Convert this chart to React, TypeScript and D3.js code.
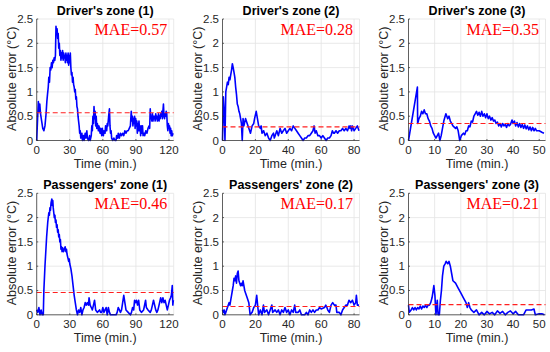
import React from "react";
import * as d3 from "d3";

type P = [number, number];

const titles = [
  "Driver's zone (1)", "Driver's zone (2)", "Driver's zone (3)",
  "Passengers' zone (1)", "Passengers' zone (2)", "Passengers' zone (3)",
];
const maeValues = [0.57, 0.28, 0.35, 0.46, 0.17, 0.21];
const xMaxes = [124.3, 83.3, 52.4, 124.3, 83.3, 52.4];
const xTicksList = [
  [0, 30, 60, 90, 120], [0, 20, 40, 60, 80], [0, 10, 20, 30, 40, 50],
  [0, 30, 60, 90, 120], [0, 20, 40, 60, 80], [0, 10, 20, 30, 40, 50],
];
const yTicks = [0, 0.5, 1, 1.5, 2, 2.5];
const yTickLabels = ["0", "0.5", "1", "1.5", "2", "2.5"];

const driver1: P[] = [
  [0,0],[0.8,0.45],[1.5,0.8],[2.2,0.6],[2.8,0.75],[3.5,0.55],[4.5,0.4],[5.5,0.25],[6.5,0.2],[7.5,0.3],[8.5,0.55],[9.2,0.8],[9.8,0.95],[10.5,1.1],[11,1.3],[11.6,1.2],[12.2,1.5],[12.8,1.45],[13.4,1.6],[14,1.5],[14.6,1.65],[15.2,1.6],[15.8,1.7],[16.4,1.65],[17,1.75],[17.5,2.35],[18,2.2],[18.5,2.3],[19,2.1],[19.5,2.2],[20,1.9],[20.5,2.0],[21,1.75],[21.5,1.85],[22,1.65],[22.5,1.8],[23,1.7],[23.5,1.85],[24,1.65],[24.5,1.8],[25,1.7],[25.5,1.75],[26,1.6],[26.5,1.8],[27,1.65],[27.5,1.75],[28,1.6],[28.5,1.8],[29,1.55],[29.5,1.75],[30,1.6],[30.5,1.8],[31,1.5],[31.5,1.35],[32,1.4],[32.5,1.2],[33,1.3],[33.5,1.15],[34,1.1],[34.5,1.0],[35,1.05],[35.5,0.85],[36,0.9],[36.5,0.7],[37,0.65],[37.5,0.5],[38,0.4],[38.5,0.3],[39,0.15],[39.5,0.2],[40,0.05],[41,0.15],[41.5,0.0],[42.5,0.1],[43,0.0],[44,0.15],[44.5,0.05],[45.5,0.2],[46,0.05],[47,0.0],[48,0.1],[48.5,0.0],[49.5,0.1],[50,0.3],[50.5,0.2],[51,0.5],[51.5,0.35],[52,0.7],[52.5,0.45],[53,0.6],[53.5,0.3],[54,0.5],[54.5,0.25],[55,0.35],[56,0.2],[56.5,0.3],[57.5,0.15],[58,0.25],[59,0.1],[59.5,0.25],[60.5,0.1],[61,0.2],[62,0.15],[62.5,0.3],[63.5,0.2],[64,0.35],[64.5,0.3],[65.5,0.55],[66,0.65],[66.5,0.3],[67,0.15],[67.5,0.2],[68,0.05],[69,0.0],[70,0.05],[71,0.0],[72,0.0],[72.5,0.1],[73.5,0.05],[74,0.15],[75,0.05],[76,0.15],[77,0.1],[78,0.15],[79,0.1],[80,0.2],[81,0.15],[82,0.2],[83,0.2],[84,0.25],[85,0.3],[85.8,0.6],[86.3,0.4],[86.8,0.5],[87.3,0.3],[87.8,0.45],[88.3,0.35],[88.8,0.5],[89.3,0.25],[89.8,0.45],[90.3,0.3],[90.8,0.4],[91.3,0.15],[91.8,0.35],[92.3,0.2],[92.8,0.4],[93.3,0.2],[93.8,0.3],[94.3,0.1],[94.8,0.3],[95.3,0.15],[96,0.3],[96.5,0.1],[97.5,0.15],[98,0.1],[99,0.2],[100,0.15],[101,0.25],[102,0.3],[102.5,0.25],[103,0.65],[103.5,0.45],[104,0.5],[104.5,0.4],[105,0.55],[105.5,0.4],[106,0.5],[106.5,0.45],[107,0.5],[107.5,0.4],[108,0.55],[108.5,0.45],[109,0.5],[109.5,0.4],[110,0.45],[110.5,0.55],[111,0.4],[111.5,0.5],[112,0.45],[112.5,0.55],[113,0.5],[113.5,0.6],[114,0.45],[115,0.75],[115.5,0.5],[116,0.45],[116.5,0.55],[117,0.5],[117.5,0.6],[118,0.55],[118.5,0.3],[119,0.2],[119.5,0.35],[120,0.25],[120.5,0.3],[121,0.15],[121.5,0.25],[122,0.1],[122.5,0.2],[123,0.1],[123.7,0.15],
];

const driver2: P[] = [
  [0,0],[0.5,0.9],[1,0.6],[1.5,0],[2,1.0],[2.5,1.1],[3,1.2],[3.5,1.15],[4,1.3],[4.5,1.25],[5,1.35],[5.5,1.45],[6,1.58],[6.5,1.5],[7,1.4],[7.5,1.3],[8,1.1],[8.5,0.95],[9,0.75],[9.5,0.7],[10,0.6],[10.5,0.55],[11,0.45],[11.5,0.35],[12,0],[12.5,0.45],[13,0.3],[14,0.45],[14.5,0.4],[15,0.35],[16,0.25],[17,0.15],[18,0.3],[19,0.35],[19.5,0.45],[20.5,0.6],[21.5,0.4],[22,0.3],[23,0.25],[23.5,0.3],[24,0.15],[25,0.2],[26,0.1],[27,0.15],[28,0.05],[29,0.0],[30,0.1],[31,0.15],[31.5,0.05],[32,0.1],[33,0.2],[34,0.1],[35,0.25],[36,0.15],[37,0.2],[38,0.25],[39,0.15],[40,0.2],[41,0.25],[42,0.2],[43,0.3],[44,0.25],[45,0.2],[46,0.15],[47,0.1],[48,0.05],[49,0.0],[50,0.05],[51,0.05],[52,0.1],[53,0.1],[54,0.15],[55,0.2],[55.7,0.3],[56.3,0.15],[57,0.2],[58,0.1],[59,0.1],[60,0.05],[61,0.1],[62,0.05],[63,0.0],[64,0.05],[65,0.05],[66,0.1],[66.8,0.2],[67.5,0.15],[68,0.15],[69,0.2],[70,0.15],[71,0.2],[72,0.2],[73,0.25],[74,0.2],[75,0.25],[76,0.2],[77,0.3],[77.5,0.25],[78,0.3],[78.5,0.2],[79,0.3],[79.5,0.25],[80,0.2],[81,0.25],[82,0.3],[83,0.2],
];

const driver3: P[] = [
  [0,0],[3.4,1.1],[3.5,0.35],[4,0.45],[4.5,0.5],[5,0.6],[5.5,0.55],[6,0.63],[6.5,0.55],[7,0.55],[7.5,0.45],[8,0.4],[8.5,0.3],[9,0.25],[9.5,0.15],[10,0.1],[10.5,0.05],[11,0.1],[11.5,0.15],[12,0],[12.5,0.1],[13,0.25],[13.5,0.4],[14.3,0.55],[15,0.45],[15.5,0.5],[16,0.4],[16.5,0.35],[17,0.3],[18,0.25],[18.5,0.28],[19,0.2],[19.6,0.0],[20.2,0.1],[21,0.15],[21.5,0.12],[22,0.2],[22.5,0.2],[23,0.3],[23.5,0.28],[24,0.4],[24.5,0.38],[25,0.5],[25.5,0.55],[26,0.6],[26.5,0.52],[27,0.58],[27.5,0.5],[28,0.6],[28.5,0.5],[29,0.55],[29.5,0.47],[30,0.55],[30.5,0.45],[31,0.5],[31.5,0.42],[32,0.47],[32.5,0.4],[33,0.42],[33.5,0.35],[34,0.38],[34.5,0.3],[35,0.35],[35.5,0.28],[36,0.35],[36.5,0.3],[37,0.33],[37.5,0.27],[38,0.35],[38.5,0.3],[39,0.33],[39.6,0.42],[40,0.35],[40.5,0.4],[41,0.3],[41.5,0.37],[42,0.28],[42.5,0.35],[43,0.27],[43.5,0.33],[44,0.25],[44.5,0.32],[45,0.24],[45.5,0.3],[46,0.22],[46.5,0.28],[47,0.2],[47.5,0.27],[48,0.2],[48.5,0.25],[49,0.2],[50,0.2],[51,0.17],[51.8,0.15],
];

const pass1: P[] = [
  [0,0.1],[1,0.05],[2,0.15],[3,0.0],[4,0.1],[5,0.0],[6,0.0],[6.5,0.5],[7.5,1.0],[8,1.2],[9,1.6],[10,1.9],[11,2.1],[11.5,2.05],[12,2.2],[12.5,2.15],[13,2.3],[13.7,2.38],[14.2,2.25],[14.6,2.35],[15,2.2],[15.5,2.1],[16,2.0],[16.5,2.05],[17,1.9],[17.5,1.95],[18,1.8],[18.5,1.85],[19,1.7],[19.5,1.75],[20,1.6],[20.5,1.65],[21,1.5],[21.5,1.55],[22,1.35],[22.5,1.4],[23,1.3],[23.5,1.38],[24,1.33],[24.5,1.3],[25,1.35],[25.8,1.4],[26.5,1.3],[27,1.35],[27.5,1.25],[28,1.2],[28.5,1.15],[29,1.1],[29.5,1.15],[30,1.05],[30.5,1.0],[31,0.95],[32,0.8],[33,0.6],[34,0.4],[35,0.25],[36,0.1],[37,0.0],[38,0.1],[39,0.05],[40,0.15],[41,0.0],[42,0.1],[43,0.15],[44,0.25],[45,0.2],[46,0.25],[47,0.2],[47.5,0.35],[48.5,0.2],[49.5,0.15],[50.5,0.1],[51.5,0.2],[52.5,0.3],[53.5,0.1],[55,0.05],[57,0.1],[58,0.05],[59,0.05],[60,0.15],[61,0.05],[62,0.1],[63,0.15],[64,0.0],[65,0.15],[66,0.05],[67,0.0],[70,0.0],[72,0.0],[73,0.05],[74,0.15],[75,0.1],[76,0.05],[77,0.1],[78,0.25],[79,0.4],[80,0.25],[81,0.1],[83,0.05],[85,0.0],[86,0.05],[87,0.15],[88,0.1],[88.8,0.3],[89.5,0.25],[90.5,0.3],[91.5,0.2],[92.5,0.3],[93.5,0.1],[95,0.05],[97,0.1],[98.8,0.3],[99.5,0.15],[101,0.1],[103,0.05],[104,0.1],[105,0.2],[106,0.3],[107,0.2],[108,0.1],[109,0.05],[110,0.1],[111,0.2],[112,0.3],[112.5,0.35],[113.5,0.25],[114.5,0.35],[115.5,0.25],[116.5,0.3],[117.5,0.2],[118.5,0.1],[119.5,0.2],[120.5,0.3],[121.5,0.35],[122.2,0.4],[123,0.6],[123.5,0.2],[124,0.3],
];

const pass2: P[] = [
  [0,0.1],[0.5,0.05],[1,0.1],[1.5,0.0],[2,0.05],[3,0.15],[4,0.25],[4.5,0.2],[5,0.3],[5.5,0.4],[6,0.5],[6.5,0.6],[7,0.75],[7.5,0.7],[8,0.8],[8.5,0.65],[9,0.85],[9.5,0.9],[10,0.7],[10.5,0.65],[11,0.6],[11.5,0.65],[12,0.6],[12.5,0.7],[13,0.6],[13.5,0.5],[14,0.45],[15,0.35],[16,0.25],[16.8,0.0],[18,0.05],[19,0.15],[20,0.2],[20.8,0.4],[21.5,0.15],[22,0.0],[23,0.1],[24,0.0],[24.9,0.2],[25.5,0.05],[27,0.1],[28,0.0],[29,0.1],[30,0.2],[30.5,0.05],[32,0.1],[33,0.05],[34,0.1],[35,0.0],[36,0.1],[37,0.05],[38,0.15],[39,0.05],[40,0.1],[41,0.0],[42,0.1],[43,0.05],[43.9,0.2],[44.5,0.05],[46,0.05],[47,0.1],[48,0.0],[50,0.0],[51,0.05],[52,0.0],[53,0.1],[54,0.05],[55,0.1],[56,0.05],[57,0.1],[58,0.1],[59,0.15],[60,0.12],[62,0.15],[62.8,0.2],[63.5,0.15],[64,0.1],[65,0.05],[66,0.2],[67,0.25],[68,0.2],[69,0.2],[69.5,0.05],[71,0.05],[72,0.0],[73,0.1],[74,0.15],[75,0.2],[76,0.2],[76.9,0.3],[78,0.25],[79,0.3],[80,0.2],[81,0.25],[81.4,0.4],[82,0.2],[83,0.2],
];

const pass3: P[] = [
  [0,0.2],[0.3,0.05],[1,0.1],[1.5,0.15],[2,0.1],[2.5,0.15],[3,0.1],[3.5,0.15],[4,0.12],[4.5,0.18],[5,0.12],[5.5,0.18],[6,0.15],[6.5,0.2],[7,0.15],[7.5,0.2],[8,0.2],[8.5,0.25],[9,0.35],[9.3,0.45],[9.7,0.6],[10.1,0.4],[10.5,0.0],[11,0.3],[11.3,0.0],[11.8,0.0],[12.2,0.3],[12.6,0.5],[13,0.8],[13.5,1.0],[14,1.05],[14.4,1.1],[15,1.05],[15.5,1.1],[16,1.0],[16.5,0.85],[17,0.7],[18,0.65],[19,0.55],[20,0.45],[21,0.35],[22,0.25],[22.5,0.15],[23,0.25],[23.5,0.15],[24,0.1],[25,0.05],[26,0.1],[27,0.0],[28,0.05],[29,0.0],[30,0.07],[31,0.02],[32,0.05],[33,0.0],[34,0.08],[35,0.03],[36,0.07],[37,0.0],[38,0.05],[39,0.08],[40,0.02],[41,0.07],[42,0.0],[44,0.0],[45,0.1],[47,0.1],[48,0.12],[48.5,0.0],[50,0.02],[51,0.02],[52,0.0],
];

const seriesList = [driver1, driver2, driver3, pass1, pass2, pass3];

const colLefts = [36.7, 222.5, 408.5];
const rowTops = [19, 193.3];
const W = 137;
const H = 121.5;
const font = "'Liberation Sans', Arial, sans-serif";
const axisColor = "#262626";
const gridColor = "#e3e3e3";

function Panel({ i }: { i: number }) {
  const left = colLefts[i % 3];
  const top = rowTops[Math.floor(i / 3)];
  const x = d3.scaleLinear().domain([0, xMaxes[i]]).range([0, W]);
  const y = d3.scaleLinear().domain([0, 2.5]).range([H, 0]);
  const line = d3.line<P>().x((d) => x(d[0])).y((d) => y(d[1]));
  const xt = xTicksList[i];
  return (
    <g transform={`translate(${left},${top})`}>
      {xt.map((t) => (
        <line key={"gx" + t} x1={x(t)} x2={x(t)} y1={0} y2={H} stroke={gridColor} strokeWidth={0.8} />
      ))}
      {yTicks.map((t) => (
        <line key={"gy" + t} x1={0} x2={W} y1={y(t)} y2={y(t)} stroke={gridColor} strokeWidth={0.8} />
      ))}
      <line x1={W} x2={W} y1={0} y2={H} stroke={gridColor} strokeWidth={0.8} />
      <path d={line(seriesList[i]) || ""} fill="none" stroke="#0000ff" strokeWidth={1.6} strokeLinejoin="round" />
      <line x1={0} x2={W} y1={y(maeValues[i])} y2={y(maeValues[i])} stroke="#ff2020" strokeWidth={1.1} strokeDasharray="5,3" />
      <line x1={0} x2={0} y1={0} y2={H} stroke={axisColor} strokeWidth={0.7} />
      <line x1={0} x2={W} y1={H} y2={H} stroke={axisColor} strokeWidth={0.7} />
      {xt.map((t) => (
        <g key={"xt" + t}>
          <line x1={x(t)} x2={x(t)} y1={H} y2={H - 1.5} stroke={axisColor} strokeWidth={0.7} />
          <text x={x(t)} y={H + 13} textAnchor="middle" fontFamily={font} fontSize={11.5} fill={axisColor}>{t}</text>
        </g>
      ))}
      {yTicks.map((t, k) => (
        <g key={"yt" + t}>
          <line x1={0} x2={1.5} y1={y(t)} y2={y(t)} stroke={axisColor} strokeWidth={0.7} />
          <text x={-3.5} y={y(t) + 4} textAnchor="end" fontFamily={font} fontSize={11.5} fill={axisColor}>{yTickLabels[k]}</text>
        </g>
      ))}
      <text x={W / 2} y={-4} textAnchor="middle" fontFamily={font} fontSize={12.5} fontWeight="bold" fill="#000">{titles[i]}</text>
      <text x={W - 6.5} y={15.5} textAnchor="end" fontFamily="'Liberation Serif', 'Times New Roman', serif" fontSize={16} fill="#ff0000">{`MAE=${maeValues[i].toFixed(2)}`}</text>
      <text x={W / 2} y={H + 27.5} textAnchor="middle" fontFamily={font} fontSize={12.5} fill={axisColor}>Time (min.)</text>
      <text transform={`translate(-21,${H / 2 - 1}) rotate(-90)`} textAnchor="middle" fontFamily={font} fontSize={12.5} fill={axisColor}>Absolute error (°C)</text>
    </g>
  );
}

export default function App() {
  return (
    <svg width={550} height={352} style={{ position: "absolute", left: 0, top: 0, background: "#fff" }}>
      <rect width={550} height={352} fill="#fff" />
      {[0, 1, 2, 3, 4, 5].map((i) => (
        <Panel key={i} i={i} />
      ))}
    </svg>
  );
}
